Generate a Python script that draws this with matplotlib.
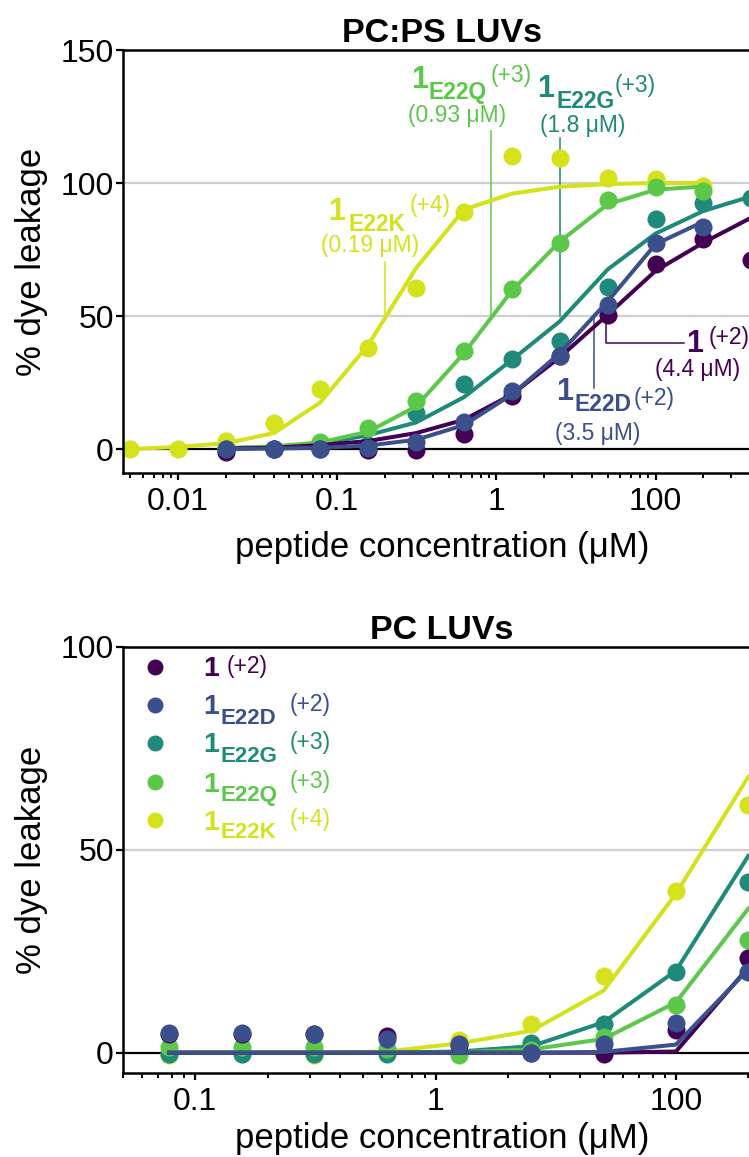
import matplotlib
matplotlib.use("Agg")
import matplotlib.pyplot as plt
from matplotlib.ticker import FixedLocator, FixedFormatter, LogLocator, NullFormatter

plt.rcParams["font.family"] = ["Liberation Sans", "DejaVu Sans"]

W, H = 749, 1157

# colours (viridis-like)
c_1 = "#440154"
c_d = "#3b4f8c"
c_g = "#1f8a7a"
c_q = "#5cc84a"
c_k = "#d3e21b"

# ---- PC:PS LUVs ----
conc_k = [0.005, 0.01, 0.02, 0.04, 0.078, 0.156, 0.3125, 0.625, 1.25, 2.5, 5, 10, 20]
conc_20 = [0.02, 0.04, 0.078, 0.156, 0.3125, 0.625, 1.25, 2.5, 5, 10, 20]
conc_40 = [0.02, 0.04, 0.078, 0.156, 0.3125, 0.625, 1.25, 2.5, 5, 10, 20, 40]

pcps_k = [0, 0, 2.9, 9.8, 22.4, 38, 60.5, 89, 110, 109.5, 102, 101.5, 99]
pcps_k_fit = [0, 0.8, 2.2, 6, 17.5, 39, 68, 90, 96, 98.6, 99.6, 100, 100]
pcps_q = [0, 0, 2.5, 8, 18, 37, 60.3, 77.5, 93.5, 98.5, 97]
pcps_q_fit = [0.4, 1, 2.5, 6.5, 16, 36, 59.5, 78, 92, 97.5, 98.7]
pcps_g = [0, 0, 0.5, 1.5, 13.5, 24.5, 34, 40.5, 61, 86.5, 92.5, 94.5]
pcps_g_fit = [0.3, 0.8, 2, 5.2, 10, 19.5, 33.5, 48, 67.5, 81, 89.5, 95]
pcps_1 = [-1, 0, 0, -0.5, -0.5, 5.5, 20, 35, 50.3, 69.4, 79, 71]
pcps_1_fit = [0.2, 0.5, 1.5, 3, 6, 11, 20.5, 34.5, 50.5, 67, 77.6, 87]
pcps_d = [0, 0, 0, 0.5, 2.5, 10, 21.8, 35, 54.3, 77.6, 83.6]
pcps_d_fit = [0, 0.2, 0.5, 1.3, 3.5, 9, 20.5, 36, 55.5, 77, 85.5]

# EC50 marker lines (position on the axis) and their labels
ec50_pos = {"1": 4.9, "d": 4.1, "g": 2.5, "q": 0.93, "k": 0.2}
ec50_text = {"1": "(4.4 μM)", "d": "(3.5 μM)", "g": "(1.8 μM)", "q": "(0.93 μM)", "k": "(0.19 μM)"}

# ---- PC LUVs ----
conc_pc = [0.078, 0.156, 0.3125, 0.625, 1.25, 2.5, 5, 10, 20]
pc_1 = [4.5, 4.5, 4.5, 4.2, 1.8, 0, -0.3, 5.5, 23.4]
pc_1_fit = [0, 0, 0, 0, 0, 0, 0, 0.3, 21]
pc_d = [4.8, 4.8, 4.6, 3.5, 2.2, 0, 2.2, 7.3, 19.8]
pc_d_fit = [0, 0, 0, 0, 0, 0, 0.2, 2, 20.5]
pc_g = [-0.4, -0.4, -0.4, -0.4, 0.3, 2.3, 7.2, 20, 42]
pc_g_fit = [0, 0, 0, 0, 0.3, 1.6, 7.5, 20.2, 48.5]
pc_q = [1.4, 1.3, 1.3, 0.9, -0.5, 0.6, 3.8, 11.8, 27.7]
pc_q_fit = [0, 0, 0, 0, 0.1, 0.8, 3.4, 12.4, 35.5]
pc_k = [-0.5, -0.3, -0.5, 0.5, 3.2, 7, 19, 39.8, 61]
pc_k_fit = [0, 0, 0, 0.3, 2.3, 5.4, 15.3, 39.2, 68]

names = ["1", "d", "g", "q", "k"]
charges = ["(+2)", "(+2)", "(+3)", "(+3)", "(+4)"]
subs = ["", "E22D", "E22G", "E22Q", "E22K"]
colors = {"1": c_1, "d": c_d, "g": c_g, "q": c_q, "k": c_k}

MS = 13
LW = 2.9


def fig_text(x, y, s, **kw):
    # x, y in pixels from the top-left corner
    kw.setdefault("va", "baseline")
    kw.setdefault("ha", "left")
    return fig.text(x / W, 1 - y / H, s, **kw)


def style_axes(ax, ymin, ymax, yticks, xmin, xmax, xticks, xlabels, xlabelpad):
    ax.set_xscale("log")
    ax.set_xlim(xmin, xmax)
    ax.set_ylim(ymin, ymax)
    ax.set_yticks(yticks)
    ax.xaxis.set_major_locator(FixedLocator(xticks))
    ax.xaxis.set_major_formatter(FixedFormatter(xlabels))
    ax.xaxis.set_minor_locator(LogLocator(base=10, subs=range(2, 10), numticks=20))
    ax.xaxis.set_minor_formatter(NullFormatter())
    for s in ax.spines.values():
        s.set_linewidth(1.8)
    ax.tick_params(axis="both", which="major", length=5, width=1.6, labelsize=23)
    ax.tick_params(axis="x", which="major", pad=5)
    ax.tick_params(axis="y", which="major", pad=1.5)
    ax.tick_params(axis="x", which="minor", length=3.5, width=1.4)
    for g in [50, 100]:
        if g < ymax:
            ax.axhline(g, color="#d0d0d0", lw=1.6, zorder=0)
    ax.axhline(0, color="black", lw=1.6, zorder=0.5)
    ax.set_xlabel("peptide concentration (μM)", fontsize=25, labelpad=xlabelpad)
    ax.set_ylabel("% dye leakage", fontsize=25, labelpad=9)


fig = plt.figure(figsize=(W / 100, H / 100), dpi=100)
ax1 = fig.add_axes([123 / W, 1 - 473 / H, 638 / W, 423 / H])
ax2 = fig.add_axes([123 / W, 1 - 1073 / H, 638 / W, 426 / H])

# top panel
top = [
    ("k", conc_k, pcps_k, pcps_k_fit, 2),
    ("g", conc_40, pcps_g, pcps_g_fit, 3),
    ("q", conc_20, pcps_q, pcps_q_fit, 4),
    ("1", conc_40, pcps_1, pcps_1_fit, 5),
    ("d", conc_20, pcps_d, pcps_d_fit, 6),
]
for key, xs, ys, fit, z in top:
    ax1.plot(xs, fit, color=colors[key], lw=LW, zorder=z)
    ax1.plot(xs, ys, "o", color=colors[key], ms=MS, mec="none", zorder=z)

style_axes(ax1, -9, 150, [0, 50, 100, 150], 0.0045, 46,
           [0.01, 0.1, 1, 10], ["0.01", "0.1", "1", "100"], 10)
ax1.set_title("PC:PS LUVs", fontsize=24.5, fontweight="bold", pad=6)

# EC50 lines
up = {"k": 70.5, "q": 119.4, "g": 117.1}
for key in ["k", "q", "g"]:
    ax1.plot([ec50_pos[key]] * 2, [50, up[key]], color=colors[key], lw=1.1, zorder=1)
ax1.plot([ec50_pos["1"], ec50_pos["1"], 15], [50, 40, 40], color=c_1, lw=1.1, zorder=1)
ax1.plot([ec50_pos["d"]] * 2, [50, 23.1], color=c_d, lw=1.1, zorder=1)

# EC50 labels: (x of "1", baseline, x of subscript, x of charge, charge shift)
BIG, SMALL = 22, 16.5
labels_top = [
    ("k", 328, 220, 348, 410, 8),
    ("q", 411, 88, 429, 491, 6),
    ("g", 537, 97, 556, 615, 5),
    ("d", 556, 400, 575, 634, -5),
]
for key, x1, yb, xs, xc, dc in labels_top:
    i = names.index(key)
    fig_text(x1, yb, "1", fontsize=BIG, fontweight="bold", color=colors[key])
    fig_text(xs, yb + 11, subs[i], fontsize=SMALL, fontweight="bold", color=colors[key])
    fig_text(xc, yb - dc, charges[i], fontsize=SMALL, color=colors[key])
fig_text(686, 352, "1", fontsize=BIG, fontweight="bold", color=c_1)
fig_text(709, 344, charges[0], fontsize=SMALL, color=c_1)

ec50_xy = {"k": (370, 252), "q": (457, 122), "g": (583, 132), "1": (698, 376), "d": (598, 440)}
for key, (x, y) in ec50_xy.items():
    fig_text(x, y, ec50_text[key], fontsize=SMALL, color=colors[key], ha="center")

# bottom panel
bot = [
    ("k", pc_k, pc_k_fit, 2),
    ("g", pc_g, pc_g_fit, 3),
    ("q", pc_q, pc_q_fit, 4),
    ("1", pc_1, pc_1_fit, 5),
    ("d", pc_d, pc_d_fit, 6),
]
for key, ys, fit, z in bot:
    ax2.plot(conc_pc, fit, color=colors[key], lw=LW, zorder=z)
    ax2.plot(conc_pc, ys, "o", color=colors[key], ms=MS, mec="none", zorder=z)

style_axes(ax2, -5, 100, [0, 50, 100], 0.05, 22.6,
           [0.1, 1, 10], ["0.1", "1", "100"], 4)
ax2.set_title("PC LUVs", fontsize=24.5, fontweight="bold", pad=6)

# legend drawn by hand
rows_y = [667, 705, 743, 782, 820]
for key, sub, ch, yy in zip(names, subs, charges, rows_y):
    ax2.plot([155 / W], [1 - yy / H], "o", color=colors[key], ms=11.5, mec="none",
             transform=fig.transFigure, clip_on=False)
    fig_text(203, yy + 9.5, "1", fontsize=20.5, fontweight="bold", color=colors[key])
    if sub:
        fig_text(221, yy + 18.5, sub, fontsize=16, fontweight="bold", color=colors[key])
        fig_text(290, yy + 6, ch, fontsize=16.5, color=colors[key])
    else:
        fig_text(227, yy + 6, ch, fontsize=16.5, color=colors[key])

fig.savefig("out.png", dpi=100)
